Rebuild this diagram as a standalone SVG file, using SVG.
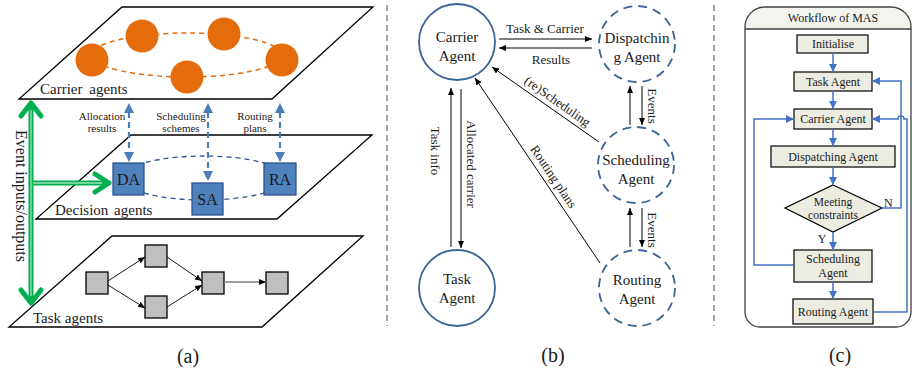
<svg xmlns="http://www.w3.org/2000/svg" width="912" height="373" viewBox="0 0 912 373">
<defs>
<style>
text{font-family:"Liberation Serif","Times New Roman",serif;fill:#1a1a1a}
.plane{fill:#fff;stroke:#000;stroke-width:1.3}
.orng{fill:#e46c0a}
.odash{fill:none;stroke:#e46c0a;stroke-width:1.5;stroke-dasharray:5 4}
.bdash{fill:none;stroke:#2f5597;stroke-width:1.3;stroke-dasharray:5 4}
.bsq{fill:#4f81bd;stroke:#2f528f;stroke-width:1.3}
.barr{stroke:#4a7ebb;stroke-width:2.2;stroke-dasharray:6 4;fill:none}
.bhead{fill:#4a7ebb}
.gsq{fill:#bfbfbf;stroke:#000;stroke-width:1.3}
.thin{stroke:#000;stroke-width:0.9;fill:none}
.gout{stroke:#00b050;stroke-width:5;fill:none;stroke-linecap:round;stroke-linejoin:round}
.gin{stroke:#9be3b4;stroke-width:1.3;fill:none}
.div{stroke:#7f7f7f;stroke-width:1.4;stroke-dasharray:6 4;fill:none}
.csol{fill:#fff;stroke:#3c6496;stroke-width:1.8}
.cdash{fill:#fff;stroke:#3c6496;stroke-width:1.8;stroke-dasharray:9 6}
.ln{stroke:#000;stroke-width:1;fill:none}
.box{fill:#ececE2;stroke:#000;stroke-width:1.2}
.bl{stroke:#4472c4;stroke-width:1.5;fill:none}
.ct{font-size:15px;text-anchor:middle}
.lb{font-size:13px}
.fc{font-size:12px;text-anchor:middle}
.fs{font-size:11.5px;text-anchor:middle}
.cap{font-size:20px;text-anchor:middle}
</style>
<marker id="mk" markerUnits="userSpaceOnUse" markerWidth="8" markerHeight="6" refX="7" refY="3" orient="auto"><path d="M0,0L7,3L0,6z" fill="#000"/></marker>
<marker id="mb" markerUnits="userSpaceOnUse" markerWidth="10" markerHeight="8" refX="8" refY="4" orient="auto"><path d="M0,0L8,4L0,8z" fill="#4472c4"/></marker>
</defs>
<rect width="912" height="373" fill="#fff"/>

<!-- Panel (a) -->
<g id="carrier-plane">
<polygon class="plane" points="122,7 373,7 272,99 19,99"/>
<ellipse class="odash" cx="187" cy="55" rx="95" ry="22"/>
<circle class="orng" cx="92" cy="60" r="16.5"/>
<circle class="orng" cx="142" cy="36" r="16.5"/>
<circle class="orng" cx="224" cy="34" r="16.5"/>
<circle class="orng" cx="282" cy="60" r="16.5"/>
<circle class="orng" cx="187" cy="77" r="16.5"/>
<text x="40" y="94" style="font-size:15px;word-spacing:3px">Carrier agents</text>
</g>

<g id="decision-plane">
<polygon class="plane" points="131,135 372,135 277,219 36,219"/>
<ellipse class="bdash" cx="204" cy="178" rx="82" ry="22"/>
<text x="55" y="215" style="font-size:15px;word-spacing:2px">Decision agents</text>
</g>
<g id="DA"><rect class="bsq" x="113" y="163" width="31" height="32"/><text x="128.5" y="185" style="font-size:16px;text-anchor:middle">DA</text></g>
<g id="SA"><rect class="bsq" x="192" y="183" width="31" height="32"/><text x="207.5" y="205" style="font-size:16px;text-anchor:middle">SA</text></g>
<g id="RA"><rect class="bsq" x="264" y="163" width="32" height="32"/><text x="280" y="185" style="font-size:16px;text-anchor:middle">RA</text></g>

<g id="task-plane">
<polygon class="plane" points="112,236 363,236 262,327 9,327"/>
<rect class="gsq" x="86" y="272" width="22" height="22"/>
<rect class="gsq" x="145" y="245" width="22" height="22"/>
<rect class="gsq" x="145" y="296" width="22" height="22"/>
<rect class="gsq" x="202" y="272" width="22" height="22"/>
<rect class="gsq" x="266" y="272" width="22" height="22"/>
<text x="33" y="323" style="font-size:15px">Task agents</text>
</g>

<g id="connectors-a">
<line class="thin" x1="108" y1="281" x2="145" y2="257" marker-end="url(#mk)"/>
<line class="thin" x1="108" y1="285" x2="145" y2="308" marker-end="url(#mk)"/>
<line class="thin" x1="167" y1="257" x2="202" y2="281" marker-end="url(#mk)"/>
<line class="thin" x1="167" y1="307" x2="202" y2="285" marker-end="url(#mk)"/>
<line x1="224" y1="282" x2="266" y2="282" stroke="#7f7f7f" stroke-width="1.5" marker-end="url(#mk)"/>

<line class="barr" x1="129" y1="112" x2="129" y2="153"/>
<polygon class="bhead" points="129,103 124,113 134,113"/>
<polygon class="bhead" points="129,162 124,152 134,152"/>
<line class="barr" x1="208" y1="112" x2="208" y2="172"/>
<polygon class="bhead" points="208,103 203,113 213,113"/>
<polygon class="bhead" points="208,181 203,171 213,171"/>
<line class="barr" x1="280" y1="112" x2="280" y2="153"/>
<polygon class="bhead" points="280,103 275,113 285,113"/>
<polygon class="bhead" points="280,162 275,152 285,152"/>

<line class="gout" x1="31" y1="104" x2="31" y2="302"/>
<line class="gout" x1="31" y1="183" x2="108" y2="183"/>
<line class="gin" x1="31" y1="110" x2="31" y2="296"/>
<line class="gin" x1="33" y1="183" x2="102" y2="183"/>
<polyline class="gout" points="21,116 31,103 41,116"/>
<polyline class="gout" points="21,290 31,303 41,290"/>
<polyline class="gout" points="95,174 109,183 95,192"/>
</g>

<g id="labels-a">
<text x="102" y="120" style="font-size:11px;text-anchor:middle">Allocation</text>
<text x="102" y="132" style="font-size:11px;text-anchor:middle">results</text>
<text x="181" y="120" style="font-size:11px;text-anchor:middle">Scheduling</text>
<text x="181" y="132" style="font-size:11px;text-anchor:middle">schemes</text>
<text x="255" y="120" style="font-size:11px;text-anchor:middle">Routing</text>
<text x="255" y="132" style="font-size:11px;text-anchor:middle">plans</text>
<text transform="translate(16,196) rotate(90)" style="font-size:16px;text-anchor:middle">Event inputs/outputs</text>
<text class="cap" x="188" y="363">(a)</text>
</g>

<g id="dividers">
<line class="div" x1="387" y1="5" x2="387" y2="326"/>
<line class="div" x1="714" y1="5" x2="714" y2="326"/>
</g>

<!-- Panel (b) -->
<g id="carrier-agent"><circle class="csol" cx="457" cy="42" r="38"/><text class="ct" x="457" y="42">Carrier</text><text class="ct" x="457" y="61">Agent</text></g>
<g id="dispatching-agent"><circle class="cdash" cx="637" cy="44" r="38"/><text class="ct" x="637" y="43">Dispatchin</text><text class="ct" x="637" y="62">g Agent</text></g>
<g id="scheduling-agent"><circle class="cdash" cx="636" cy="165" r="38"/><text class="ct" x="636" y="165">Scheduling</text><text class="ct" x="636" y="184">Agent</text></g>
<g id="routing-agent"><circle class="cdash" cx="637" cy="288" r="38"/><text class="ct" x="637" y="285">Routing</text><text class="ct" x="637" y="304">Agent</text></g>
<g id="task-agent"><circle class="csol" cx="457" cy="288" r="38"/><text class="ct" x="457" y="284">Task</text><text class="ct" x="457" y="303">Agent</text></g>

<g id="connectors-b">
<line class="ln" x1="499" y1="39" x2="592" y2="39" marker-end="url(#mk)"/>
<line class="ln" x1="592" y1="48" x2="499" y2="48" marker-end="url(#mk)"/>
<line class="ln" x1="630" y1="125" x2="630" y2="86" marker-end="url(#mk)"/>
<line class="ln" x1="642" y1="86" x2="642" y2="125" marker-end="url(#mk)"/>
<line class="ln" x1="630" y1="247" x2="630" y2="208" marker-end="url(#mk)"/>
<line class="ln" x1="642" y1="208" x2="642" y2="247" marker-end="url(#mk)"/>
<line class="ln" x1="599" y1="142" x2="492" y2="67" marker-end="url(#mk)"/>
<line class="ln" x1="600" y1="263" x2="475" y2="78" marker-end="url(#mk)"/>
<line class="ln" x1="451" y1="247" x2="451" y2="88" marker-end="url(#mk)"/>
<line class="ln" x1="461" y1="89" x2="461" y2="248" marker-end="url(#mk)"/>
</g>
<g id="labels-b">
<text class="lb" x="545" y="33" text-anchor="middle">Task &amp; Carrier</text>
<text class="lb" x="551" y="64" text-anchor="middle">Results</text>
<text class="lb" transform="translate(648,106) rotate(90)" text-anchor="middle">Events</text>
<text class="lb" transform="translate(648,230) rotate(90)" text-anchor="middle">Events</text>
<text class="lb" transform="translate(431,151) rotate(90)" text-anchor="middle">Task info</text>
<text class="lb" transform="translate(467,164) rotate(90)" text-anchor="middle">Allocated carrier</text>
<text class="lb" transform="translate(555,105) rotate(35)" text-anchor="middle">(re)Scheduling</text>
<text class="lb" transform="translate(550,179) rotate(56)" text-anchor="middle">Routing plans</text>
<text class="cap" x="553" y="362">(b)</text>
</g>

<!-- Panel (c) -->
<g id="workflow-container">
<path d="M745,27 A20,20 0 0 1 765,7 L891,7 A20,20 0 0 1 911,27 L911,29 L745,29 Z" fill="#f4f4ef"/>
<path d="M745,27 A20,20 0 0 1 765,7 L891,7 A20,20 0 0 1 911,27 L911,312 A15,15 0 0 1 896,327 L760,327 A15,15 0 0 1 745,312 Z" fill="none" stroke="#404040" stroke-width="1.3"/>
<line x1="745" y1="29" x2="911" y2="29" stroke="#404040" stroke-width="1.3"/>
<text class="fc" x="833" y="22">Workflow of MAS</text>
</g>
<g id="initialise"><rect class="box" x="797" y="35" width="71" height="18"/><text class="fc" x="833" y="48">Initialise</text></g>
<g id="task-agent-c"><rect class="box" x="794" y="72" width="78" height="19"/><text class="fc" x="833" y="86">Task Agent</text></g>
<g id="carrier-agent-c"><rect class="box" x="794" y="109" width="78" height="20"/><text class="fc" x="833" y="123">Carrier Agent</text></g>
<g id="dispatching-agent-c"><rect class="box" x="771" y="146" width="124" height="21"/><text class="fc" x="833" y="161">Dispatching Agent</text></g>
<g id="meeting-constraints"><polygon class="box" points="833,185 882,208 833,232 785,208"/><text class="fs" x="833" y="206">Meeting</text><text class="fs" x="833" y="219">constraints</text></g>
<g id="scheduling-agent-c"><rect class="box" x="794" y="250" width="78" height="32"/><text class="fc" x="833" y="263">Scheduling</text><text class="fc" x="833" y="277">Agent</text></g>
<g id="routing-agent-c"><rect class="box" x="793" y="299" width="80" height="25"/><text class="fc" x="833" y="316">Routing Agent</text></g>

<g id="connectors-c">
<line class="bl" x1="833" y1="53" x2="833" y2="72" marker-end="url(#mb)"/>
<line class="bl" x1="833" y1="91" x2="833" y2="109" marker-end="url(#mb)"/>
<line class="bl" x1="833" y1="129" x2="833" y2="146" marker-end="url(#mb)"/>
<line class="bl" x1="833" y1="167" x2="833" y2="185" marker-end="url(#mb)"/>
<line class="bl" x1="833" y1="232" x2="833" y2="250" marker-end="url(#mb)"/>
<line class="bl" x1="833" y1="282" x2="833" y2="299" marker-end="url(#mb)"/>
<polyline class="bl" points="882,208 901,208 901,81 872,81" marker-end="url(#mb)"/>
<polyline class="bl" points="794,265 754,265 754,119 794,119" marker-end="url(#mb)"/>
<path class="bl" d="M873,312 L907,312 L907,119 L904,119 A3,3 0 0 0 898,119 L872,119" marker-end="url(#mb)"/>
</g>
<g id="labels-c">
<text class="fc" x="822" y="243">Y</text>
<text x="884" y="207" style="font-size:12px">N</text>
<text class="cap" x="840" y="362">(c)</text>
</g>
</svg>
